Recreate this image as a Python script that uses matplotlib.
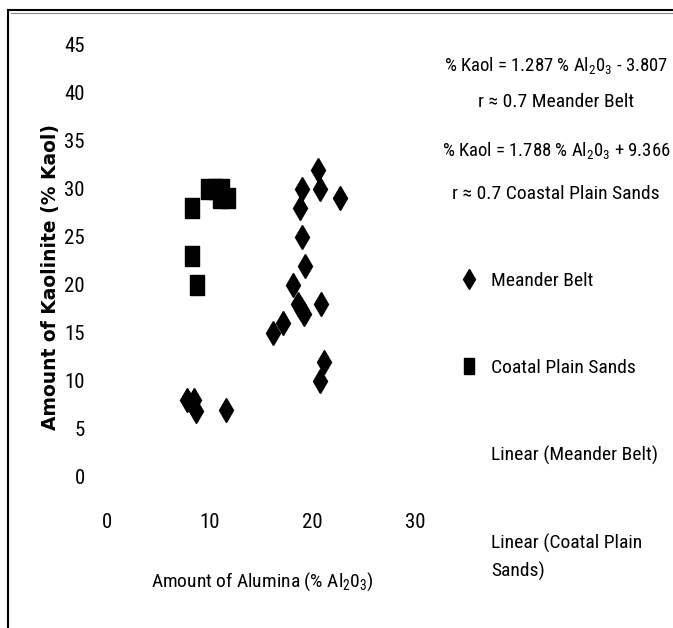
import matplotlib
matplotlib.use("Agg")
import matplotlib.pyplot as plt
from matplotlib.lines import Line2D

plt.rcParams['font.family'] = ['Roboto Condensed', 'DejaVu Sans']
plt.rcParams['mathtext.default'] = 'regular'

# data
meander_x = [20.5, 19.0, 20.7, 22.7, 18.8, 19.0, 19.3, 18.1, 18.6, 18.9, 19.2,
             20.8, 17.1, 16.1, 21.1, 20.7, 7.8, 8.5, 8.7, 11.6]
meander_y = [32, 30, 30, 29, 28, 25, 22, 20, 18, 17.5, 17,
             18, 16, 15, 12, 10, 8, 8, 6.8, 7]
coastal_x = [8.3, 8.3, 8.8, 9.8, 10.5, 11.2, 11.0, 11.8]
coastal_y = [28, 23, 20, 30, 30, 30, 29, 29]

x_ticks = [0, 10, 20, 30]
y_ticks = [0, 5, 10, 15, 20, 25, 30, 35, 40, 45]

eq_meander = ['% Kaol = 1.287 % Al$_2$0$_3$ - 3.807', 'r \u2248 0.7 Meander Belt']
eq_coastal = ['% Kaol = 1.788 % Al$_2$0$_3$ + 9.366', 'r \u2248 0.7 Coastal Plain Sands']

W, H = 673, 628
fig = plt.figure(figsize=(W / 100, H / 100), dpi=100)

# plot area: x=0 at px 107, x=30 at px 415.5; y=0 at px 476.7, y=45 at px 45
ax = fig.add_axes([107 / W, (H - 476.7) / H, 308.5 / W, 431.7 / H])
ax.set_xlim(0, 30)
ax.set_ylim(0, 45)

sq = [(-0.65, -1), (0.65, -1), (0.65, 1), (-0.65, 1), (-0.65, -1)]
ax.plot(meander_x, meander_y, linestyle='none', marker='d', markersize=12.5,
        color='black', label='Meander Belt', clip_on=False)
ax.plot(coastal_x, coastal_y, linestyle='none', marker=sq, markersize=14.5,
        color='black', label='Coatal Plain Sands', clip_on=False)

ax.set_xticks(x_ticks)
ax.set_yticks(y_ticks)
ax.tick_params(length=0, labelsize=15)
ax.tick_params(axis='x', pad=26)
ax.tick_params(axis='y', pad=16)
for s in ax.spines.values():
    s.set_visible(False)

ax.set_xlabel('Amount of Alumina (% Al$_2$0$_3$)', fontsize=14)
ax.xaxis.set_label_coords((262 - 107) / 308.5, -(570 - 476.7) / 431.7)
ax.set_ylabel('Amount of Kaolinite (% Kaol)', fontsize=13.5, fontweight='bold',
              family='DejaVu Sans')
ax.yaxis.set_label_coords(-(107 - 60) / 308.5, (476.7 - 277) / 431.7)

# trendline equations
fig.text(556 / W, 1 - 66 / H, eq_meander[0], ha='center', va='center', fontsize=13.5)
fig.text(556 / W, 1 - 102 / H, eq_meander[1], ha='center', va='center', fontsize=14)
fig.text(556 / W, 1 - 150 / H, eq_coastal[0], ha='center', va='center', fontsize=13.5)
fig.text(556 / W, 1 - 194 / H, eq_coastal[1], ha='center', va='center', fontsize=14)

# legend (trendlines are invisible in the original)
handles, labels = ax.get_legend_handles_labels()
handles += [Line2D([], [], color='white'), Line2D([], [], color='white')]
labels += ['Linear (Meander Belt)', 'Linear (Coatal Plain\nSands)']
leg = fig.legend(handles, labels, loc='upper left',
                 bbox_to_anchor=(450 / W, 1 - 262 / H), frameon=False,
                 fontsize=14, labelspacing=3.55, handlelength=1.0,
                 handletextpad=0.6, borderpad=0, markerscale=0.8)
for t in leg.get_texts():
    t.set_linespacing(1.6)

# chart border: left and top
fig.add_artist(Line2D([8 / W, 8 / W], [0, 1 - 10 / H], color='black', lw=1.5))
fig.add_artist(Line2D([8 / W, 1], [1 - 10 / H, 1 - 10 / H], color='black', lw=1.5))
fig.add_artist(Line2D([11 / W, 1], [1 - 13 / H, 1 - 13 / H], color='#888888', lw=0.8))

fig.savefig('out.png', dpi=100)
